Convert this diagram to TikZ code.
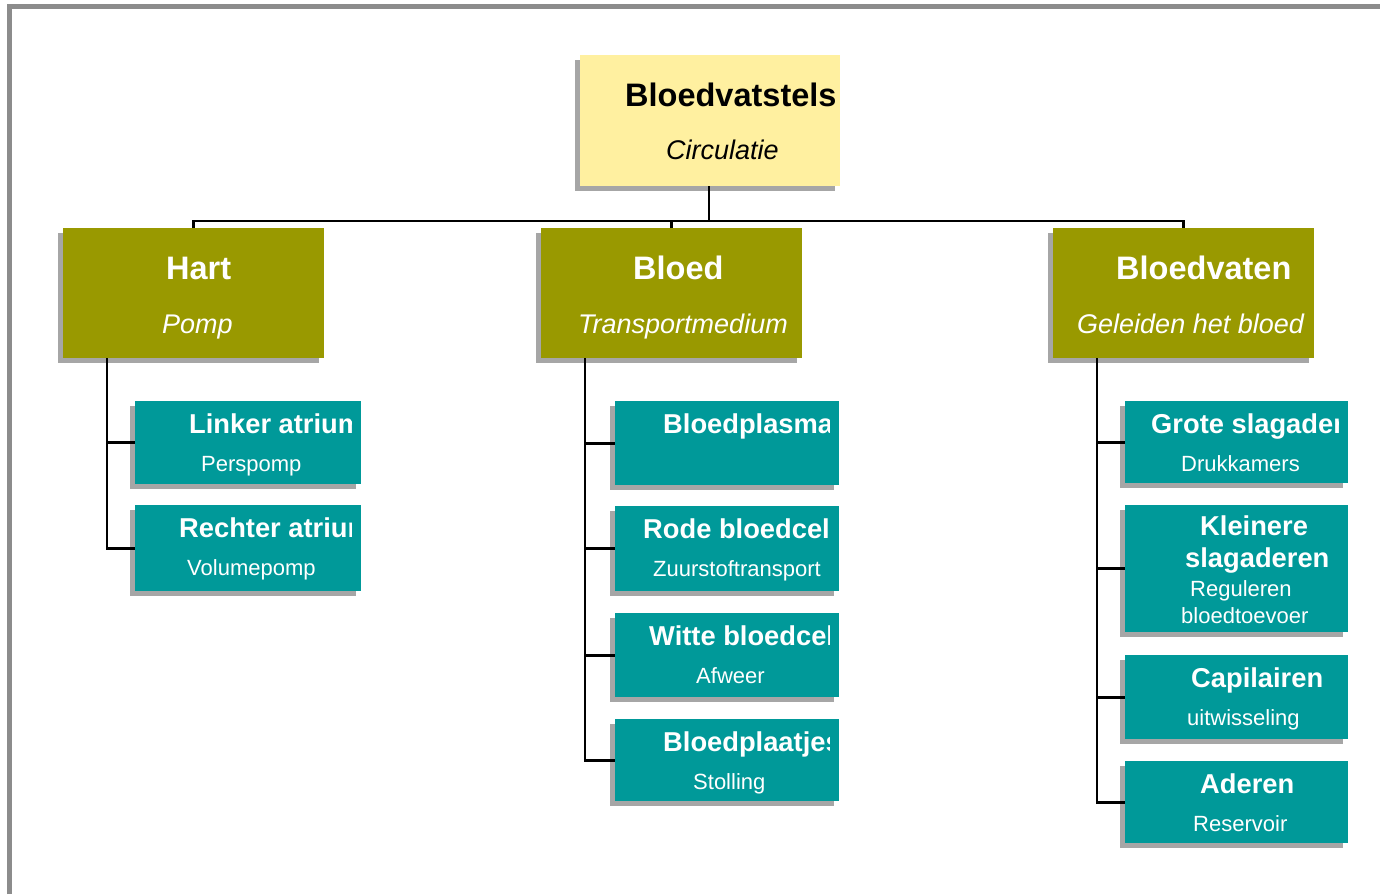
\documentclass[tikz,border=0pt]{standalone}
\usepackage{fontspec}
\setmainfont{Liberation Sans}
\usepackage{tikz}
\usetikzlibrary{shadows}
\usetikzlibrary{positioning}
\usetikzlibrary{calc}
\definecolor{bvyellow}{RGB}{255,240,160}
\definecolor{bvolive}{RGB}{153,153,0}
\definecolor{bvteal}{RGB}{0,153,153}
\definecolor{bvshadow}{RGB}{166,166,166}
\definecolor{bvframe}{RGB}{140,140,140}
\tikzstyle{box}=[rectangle,inner sep=0pt,anchor=north west,drop shadow={shadow xshift=-5pt,shadow yshift=-5pt,fill=bvshadow,opacity=1}]
\tikzstyle{topbox}=[box,fill=bvyellow,minimum width=260pt,minimum height=131pt]
\tikzstyle{mainbox}=[box,fill=bvolive,minimum width=261pt,minimum height=130pt]
\tikzstyle{subbox}=[box,fill=bvteal]
\tikzstyle{connector}=[draw,line width=2.8pt]
\tikzstyle{bigtitle}=[anchor=base west,inner sep=0pt,font=\fontsize{32.5}{36}\selectfont\bfseries]
\tikzstyle{bigsub}=[anchor=base west,inner sep=0pt,font=\fontsize{27}{30}\selectfont\itshape]
\tikzstyle{smalltitle}=[anchor=base west,inner sep=0pt,text=white,font=\fontsize{27.3}{30}\selectfont\bfseries]
\tikzstyle{smallsub}=[anchor=base west,inner sep=0pt,text=white,font=\fontsize{22}{25}\selectfont]

\begin{document}
\begin{tikzpicture}[x=1pt,y=-1pt]
    \useasboundingbox (0,0) rectangle (1380,894);
    % frame of the slide
    \draw[bvframe,line width=5pt] (9.5,894) -- (9.5,6.5) -- (1380,6.5);

    % First the top box and the three main boxes
    \node[topbox] (system) at (580,55) {};
    \node[bigtitle] (systemtitle) at (625,106) {Bloedvatstels};
    \node[bigsub] (systemsub) at (666,159) {Circulatie};

    \foreach \x/\name/\label/\tx/\note/\sx in {{63/hart/Hart/166/Pomp/162},
    {541/bloed/Bloed/633/Transportmedium/578},
    {1053/vaten/Bloedvaten/1116/Geleiden het bloed/1077}}
    {
        \node[mainbox] (\name) at (\x,228) {};
        \node[bigtitle,text=white] (\name-title) at (\tx,279) {\label};
        \node[bigsub,text=white] (\name-sub) at (\sx,333) {\note};
    }

    % bus between top box and main boxes
    \coordinate (bus) at (709,221);
    \path[connector] (system.south -| bus) -- (bus);
    \path[connector] (hart.north) |- (bus) -| (vaten.north);
    \path[connector] (bloed.north) -- (bloed.north |- bus);

    % Then the child boxes, titles cut off at the right edge
    \foreach \parent/\x/\y/\w/\h/\name/\label/\tx/\note/\sx in {
    {hart/135/401/226/83/linker/Linker atrium/189/Perspomp/201},
    {hart/135/505/226/86/rechter/Rechter atrium/179/Volumepomp/187},
    {bloed/615/401/224/84/plasma/Bloedplasma/663/{}/700},
    {bloed/615/506/224/85/rode/Rode bloedcellen/643/Zuurstoftransport/653},
    {bloed/615/613/224/84/witte/Witte bloedcellen/649/Afweer/696},
    {bloed/615/719/224/82/plaatjes/Bloedplaatjes/663/Stolling/693},
    {vaten/1125/401/223/82/grote/Grote slagaderen/1151/Drukkamers/1181},
    {vaten/1125/505/223/127/kleinere/{}/1200/{}/1190},
    {vaten/1125/655/223/84/capil/Capilairen/1191/uitwisseling/1187},
    {vaten/1125/761/223/82/aderen/Aderen/1200/Reservoir/1193}}
    {
        \node[subbox,minimum width=\w pt,minimum height=\h pt] (\name) at (\x,\y) {};
        \path[connector] ([xshift=44pt]\parent.south west) |- (\name.west);
        \begin{scope}
            \clip (\name.north west) rectangle ([xshift=-10pt]\name.south east);
            \node[smalltitle] (\name-title) at (\tx,\y+32) {\label};
            \node[smallsub] (\name-sub) at (\sx,\y+70) {\note};
        \end{scope}
    }

    % the one box with four lines of text
    \node[smalltitle] (kleinere-a) at (1200,535) {Kleinere};
    \node[smalltitle] (kleinere-b) at (1185,567) {slagaderen};
    \node[smallsub] (kleinere-c) at (1190,596) {Reguleren};
    \node[smallsub] (kleinere-d) at (1181,623) {bloedtoevoer};
\end{tikzpicture}
\end{document}
